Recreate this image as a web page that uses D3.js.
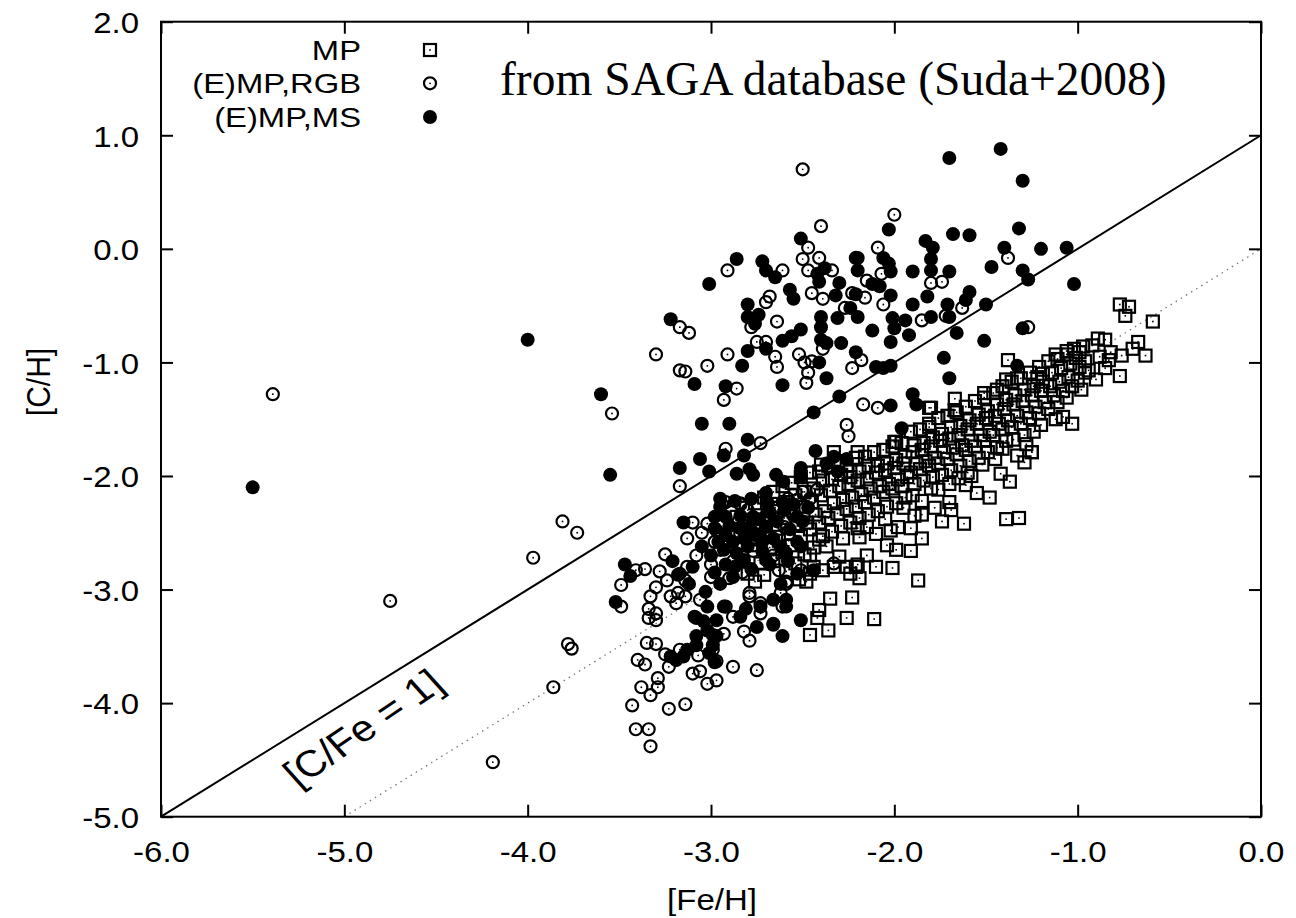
<!DOCTYPE html>
<html>
<head>
<meta charset="utf-8">
<script src="https://cdn.jsdelivr.net/npm/d3@7"></script>
<style>
  html, body { margin: 0; padding: 0; background: #fff; }
  svg { display: block; }
</style>
</head>
<body>
<div id="chart"></div>
<script>
// axis ticks and legend
const xTicks = [-6, -5, -4, -3, -2, -1, 0];
const yTicks = [-5, -4, -3, -2, -1, 0, 1, 2];
const legendLabels = ["MP", "(E)MP,RGB", "(E)MP,MS"];

// [Fe/H], [C/H] pairs
const mpStars = [
  [-0.77,-0.49],[-0.72,-0.51],[-0.74,-0.59],[-0.59,-0.64],[-0.89,-0.79],[-0.85,-0.80],[-0.82,-0.91],[-0.76,-0.94],
  [-0.70,-0.88],[-0.67,-0.82],[-0.63,-0.94],[-0.85,-1.05],[-0.77,-1.12],[-0.83,-0.98],[-1.12,-0.93],[-1.06,-0.90],
  [-0.99,-0.91],[-0.96,-1.09],[-1.38,-0.98],[-1.33,-1.14],[-1.39,-1.15],[-1.44,-1.24],[-1.51,-1.27],[-1.22,-1.13],
  [-1.19,-1.10],[-1.67,-1.32],[-1.67,-1.42],[-1.81,-1.40],[-1.03,-1.54],[-1.08,-1.48],[-1.25,-1.79],[-1.29,-1.88],
  [-1.33,-1.82],[-1.37,-2.05],[-1.48,-2.19],[-1.55,-2.15],[-1.61,-2.08],[-1.39,-2.38],[-1.32,-2.37],[-1.62,-2.42],
  [-1.74,-2.40],[-1.70,-2.23],[-1.81,-1.57],[-1.99,-1.70],[-2.20,-1.79],[-1.85,-2.34],[-1.85,-2.55],[-1.91,-2.46],
  [-1.91,-2.66],[-2.01,-2.81],[-2.10,-2.80],[-2.04,-2.61],[-2.15,-2.70],[-2.20,-2.78],[-1.89,-2.35],[-2.24,-1.96],
  [-1.80,-1.40],[-1.67,-1.42],[-2.40,-1.90],[-2.33,-1.79],[-2.00,-1.70],[-1.41,-1.76],[-1.24,-1.61],[-1.25,-1.79],
  [-1.42,-1.98],[-1.69,-2.30],[-1.98,-2.45],[-1.99,-2.65],[-2.20,-2.46],[-2.19,-2.54],[-1.87,-2.92],[-2.21,-2.80],
  [-2.26,-2.80],[-2.30,-2.71],[-2.19,-2.90],[-2.24,-2.86],[-2.37,-2.62],[-2.41,-2.56],[-2.46,-2.70],[-2.44,-2.80],
  [-2.46,-2.86],[-2.48,-2.93],[-2.39,-2.83],[-2.33,-2.80],[-2.35,-3.08],[-2.23,-3.07],[-2.41,-3.18],[-2.42,-3.25],
  [-2.26,-3.25],[-2.11,-3.26],[-2.36,-3.36],[-2.46,-3.40],
  [-2.86,-2.36],[-2.84,-2.52],[-2.83,-2.70],[-2.81,-2.28],[-2.79,-2.44],[-2.78,-2.61],[-2.80,-2.86],
  [-2.76,-2.24],[-2.74,-2.41],[-2.75,-2.54],[-2.73,-2.77],[-2.76,-2.93],[-2.71,-2.19],[-2.69,-2.34],
  [-2.70,-2.49],[-2.68,-2.63],[-2.71,-2.87],[-2.66,-2.14],[-2.64,-2.31],[-2.65,-2.43],[-2.63,-2.57],
  [-2.66,-2.75],[-2.61,-2.09],[-2.59,-2.23],[-2.60,-2.37],[-2.58,-2.51],[-2.61,-2.67],[-2.59,-2.84],
  [-2.56,-2.06],[-2.54,-2.17],[-2.55,-2.31],[-2.53,-2.44],[-2.56,-2.61],[-2.54,-2.77],[-2.52,-2.91],
  [-2.51,-2.01],[-2.49,-2.14],[-2.50,-2.27],[-2.48,-2.41],[-2.51,-2.53],[-2.49,-2.69],[-2.46,-1.97],
  [-2.44,-2.11],[-2.45,-2.23],[-2.43,-2.34],[-2.46,-2.47],[-2.44,-2.63],[-2.41,-1.96],[-2.39,-2.04],
  [-2.40,-2.17],[-2.38,-2.31],[-2.41,-2.41],[-2.39,-2.53],[-2.36,-1.91],[-2.34,-2.03],[-2.35,-2.13],
  [-2.33,-2.24],[-2.36,-2.37],[-2.34,-2.49],[-2.31,-1.87],[-2.29,-1.99],[-2.30,-2.09],[-2.28,-2.21],
  [-2.31,-2.33],[-2.29,-2.44],[-2.26,-1.91],[-2.24,-2.01],[-2.25,-2.07],[-2.23,-2.19],[-2.26,-2.29],
  [-2.24,-2.41],[-2.21,-1.84],[-2.19,-1.96],[-2.20,-2.04],[-2.18,-2.16],[-2.21,-2.27],[-2.19,-2.37],
  [-2.16,-1.83],[-2.14,-1.91],[-2.15,-2.03],[-2.13,-2.11],[-2.16,-2.23],[-2.14,-2.34],[-2.11,-1.79],
  [-2.09,-1.91],[-2.10,-1.97],[-2.08,-2.09],[-2.11,-2.19],[-2.09,-2.31],[-2.10,-2.51],[-2.06,-1.77],
  [-2.04,-1.89],[-2.05,-1.95],[-2.03,-2.07],[-2.06,-2.14],[-2.04,-2.27],[-2.01,-1.74],[-1.99,-1.86],
  [-2.00,-1.93],[-1.98,-2.03],[-2.01,-2.11],[-1.99,-2.24],[-1.96,-1.71],[-1.94,-1.83],[-1.95,-1.89],
  [-1.93,-2.01],[-1.96,-2.09],[-1.94,-2.19],[-1.91,-1.61],[-1.89,-1.73],[-1.90,-1.79],[-1.88,-1.89],
  [-1.91,-1.97],[-1.89,-2.07],[-1.90,-2.17],[-1.86,-1.59],[-1.84,-1.71],[-1.85,-1.77],[-1.83,-1.87],
  [-1.86,-1.94],[-1.84,-2.04],[-1.81,-1.54],[-1.79,-1.66],[-1.80,-1.74],[-1.78,-1.84],[-1.81,-1.91],
  [-1.79,-2.01],[-1.80,-2.11],[-1.76,-1.49],[-1.74,-1.63],[-1.75,-1.69],[-1.73,-1.79],[-1.76,-1.89],
  [-1.74,-1.99],[-1.71,-1.47],[-1.69,-1.57],[-1.70,-1.67],[-1.68,-1.75],[-1.71,-1.85],[-1.69,-1.95],
  [-1.70,-2.07],[-1.66,-1.44],[-1.64,-1.56],[-1.65,-1.64],[-1.63,-1.73],[-1.66,-1.81],[-1.64,-1.91],
  [-1.61,-1.39],[-1.59,-1.51],[-1.60,-1.59],[-1.58,-1.69],[-1.61,-1.77],[-1.59,-1.87],[-1.60,-1.97],
  [-1.56,-1.34],[-1.54,-1.46],[-1.55,-1.54],[-1.53,-1.64],[-1.56,-1.74],[-1.54,-1.84],[-1.51,-1.31],
  [-1.49,-1.43],[-1.50,-1.49],[-1.48,-1.61],[-1.51,-1.69],[-1.49,-1.79],[-1.46,-1.27],[-1.44,-1.37],
  [-1.45,-1.47],[-1.43,-1.54],[-1.46,-1.64],[-1.44,-1.75],[-1.41,-1.21],[-1.39,-1.33],[-1.40,-1.41],
  [-1.38,-1.51],[-1.41,-1.59],[-1.39,-1.69],[-1.36,-1.17],[-1.34,-1.29],[-1.35,-1.37],[-1.33,-1.47],
  [-1.36,-1.57],[-1.31,-1.14],[-1.29,-1.24],[-1.30,-1.34],[-1.28,-1.44],[-1.31,-1.54],[-1.29,-1.64],
  [-1.26,-1.09],[-1.24,-1.21],[-1.25,-1.29],[-1.23,-1.39],[-1.26,-1.49],[-1.21,-1.04],[-1.19,-1.17],
  [-1.20,-1.25],[-1.18,-1.35],[-1.21,-1.45],[-1.16,-0.99],[-1.14,-1.09],[-1.15,-1.21],[-1.13,-1.29],
  [-1.16,-1.41],[-1.11,-0.97],[-1.09,-1.05],[-1.10,-1.17],[-1.08,-1.25],[-1.11,-1.35],[-1.06,-0.93],
  [-1.04,-1.01],[-1.05,-1.13],[-1.03,-1.21],[-1.06,-1.31],[-1.01,-0.96],[-0.99,-1.04],[-1.00,-1.16],
  [-0.98,-1.24],[-0.96,-0.99],[-0.94,-1.07],
  [-1.52,-1.90],[-1.45,-1.85],[-1.35,-1.68],[-1.28,-1.72],[-1.20,-1.55],[-1.12,-1.50],[-1.58,-2.00],
  [-1.65,-2.02],[-1.76,-2.12],[-1.85,-2.22],[-1.95,-2.28],[-2.05,-2.38],[-2.15,-2.45],[-2.28,-2.55],
  [-2.02,-2.48],[-1.78,-2.28],[-0.92,-0.85],[-0.88,-0.95],[-0.97,-0.86],[-1.02,-0.88],[-0.90,-1.15]
];

const rgbStars = [
  [-5.39,-1.28],[-4.75,-3.10],[-4.19,-4.52],[-3.97,-2.72],[-3.86,-3.86],[-3.81,-2.40],[-3.73,-2.50],
  [-3.78,-3.48],[-3.76,-3.52],[-3.54,-1.45],
  [-2.50,0.70],[-2.00,0.30],[-2.40,0.20],[-2.09,0.01],[-2.47,0.01],[-2.50,-0.09],[-2.41,-0.08],[-2.47,-0.19],
  [-2.34,-0.19],[-2.21,-0.08],[-2.61,-0.19],[-2.91,-0.19],[-1.38,-0.08],[-2.07,-0.22],[-2.15,-0.28],[-1.80,-0.30],
  [-1.74,-0.29],[-2.45,-0.39],[-2.39,-0.44],[-2.23,-0.39],[-2.16,-0.43],[-2.06,-0.49],[-2.68,-0.42],[-2.70,-0.47],
  [-2.27,-0.52],[-1.63,-0.52],[-1.72,-0.59],[-1.85,-0.63],[-2.64,-0.64],[-2.78,-0.69],[-3.17,-0.69],[-3.12,-0.74],
  [-1.27,-0.69],[-2.75,-0.82],[-2.70,-0.82],[-3.30,-0.93],[-2.91,-0.93],[-2.65,-0.95],[-2.52,-0.93],[-2.49,-1.00],
  [-2.45,-0.99],[-2.39,-0.88],[-2.18,-0.98],[-2.23,-1.05],[-2.64,-1.04],[-2.47,-1.09],[-2.48,-1.18],[-3.02,-1.03],
  [-3.17,-1.07],[-3.14,-1.08],[-2.86,-1.23],[-2.93,-1.33],[-2.17,-1.37],[-2.09,-1.40],[-2.26,-1.55],[-2.25,-1.65],
  [-2.92,-1.76],[-2.73,-1.71],[-3.17,-2.09],[-2.92,-2.23],[-2.84,-2.24],[-2.50,-2.14],[-2.53,-2.21],[-2.51,-2.83],
  [-2.59,-2.95],[-2.79,-3.03],[-2.73,-3.12],[-2.33,-2.77],
  [-3.10,-2.41],[-3.02,-2.42],[-3.13,-2.55],[-2.97,-2.48],[-2.98,-2.58],[-3.25,-2.69],[-3.36,-2.82],[-3.41,-2.83],
  [-3.49,-2.96],[-3.49,-3.15],[-3.28,-2.84],[-3.24,-2.92],[-3.30,-2.98],[-3.33,-3.06],[-3.22,-3.06],[-3.18,-3.03],
  [-3.14,-3.06],[-3.19,-3.12],[-3.34,-3.17],[-3.30,-3.21],[-3.34,-3.25],[-3.30,-3.27],[-3.35,-3.47],[-3.30,-3.48],
  [-3.40,-3.62],[-3.36,-3.66],[-3.25,-3.57],[-3.23,-3.68],[-3.17,-3.53],[-3.07,-3.58],[-2.99,-3.53],[-2.97,-3.63],
  [-2.88,-3.68],[-2.75,-3.71],[-3.10,-3.74],[-3.06,-3.72],[-3.02,-3.83],[-2.97,-3.80],[-3.29,-3.78],[-3.29,-3.86],
  [-3.38,-3.86],[-3.33,-3.93],[-3.43,-4.02],[-3.23,-4.05],[-3.14,-4.01],[-3.41,-4.23],[-3.34,-4.23],[-3.33,-4.38],
  [-3.13,-2.80],[-3.14,-2.92],[-3.06,-3.09],[-2.93,-3.39],[-2.82,-3.37],[-2.79,-3.45],[-2.63,-2.83],[-2.59,-2.93],
  [-2.84,-2.25],[-2.94,-2.25],[-2.88,-2.75],[-2.79,-3.06],[-2.61,-3.15],[-2.62,-3.03],[-2.92,-3.15],[-2.88,-3.24],
  [-3.00,-2.89],[-2.73,-3.21],
  [-3.05,-2.50],[-2.95,-2.65],[-2.90,-2.60],[-2.85,-2.40],[-2.80,-2.30],[-2.75,-2.45],[-2.70,-2.35],[-2.65,-2.28],
  [-2.60,-2.45],[-2.55,-2.35],[-2.90,-2.90],[-2.83,-2.85],[-3.08,-2.70],[-3.00,-2.78],[-2.72,-2.58],[-2.77,-2.66],
  [-2.66,-2.70],[-2.46,-2.20],[-2.42,-2.12],[-2.58,-2.20]
];

const msStars = [
  [-5.50,-2.10],[-4.00,-0.80],[-3.60,-1.28],[-3.55,-1.99],[-3.52,-3.11],[-3.47,-2.78],[-3.44,-2.88],
  [-1.70,0.80],[-1.42,0.88],[-1.30,0.60],[-1.32,0.18],[-2.03,0.17],[-1.68,0.13],[-1.59,0.12],[-1.83,0.07],
  [-1.79,0.01],[-1.40,0.01],[-1.20,0.00],[-1.06,0.01],[-2.51,0.09],[-2.86,-0.09],[-2.72,-0.11],[-2.70,-0.19],
  [-2.65,-0.25],[-3.01,-0.31],[-1.80,-0.09],[-1.80,-0.19],[-1.70,-0.20],[-1.90,-0.20],[-2.20,-0.08],[-2.06,-0.08],
  [-2.03,-0.13],[-2.02,-0.20],[-2.20,-0.19],[-2.42,-0.22],[-2.38,-0.17],[-2.41,-0.29],[-2.30,-0.30],[-2.12,-0.31],
  [-2.08,-0.33],[-2.57,-0.36],[-2.55,-0.44],[-2.32,-0.41],[-2.21,-0.40],[-2.02,-0.41],[-1.82,-0.42],[-1.47,-0.16],
  [-1.30,-0.19],[-1.27,-0.27],[-1.02,-0.31],[-1.59,-0.38],[-1.61,-0.45],[-1.50,-0.49],[-1.71,-0.49],[-1.70,-0.60],
  [-1.80,-0.60],[-1.90,-0.49],[-2.80,-0.49],[-2.80,-0.60],[-2.74,-0.58],[-2.76,-0.66],[-2.40,-0.60],[-2.40,-0.69],
  [-2.31,-0.61],[-2.24,-0.52],[-2.20,-0.60],[-2.01,-0.61],[-1.94,-0.63],[-2.00,-0.70],[-2.12,-0.72],[-1.92,-0.76],
  [-2.02,-0.82],[-2.51,-0.71],[-2.56,-0.77],[-2.61,-0.81],[-2.40,-0.80],[-2.37,-0.83],[-2.29,-0.83],[-2.70,-0.88],
  [-2.80,-0.90],[-2.21,-0.91],[-2.41,-1.00],[-2.83,-1.03],[-3.09,-1.19],[-3.22,-0.62],[-2.92,-1.21],[-2.61,-1.20],
  [-2.37,-1.14],[-2.10,-1.04],[-2.06,-1.05],[-2.02,-1.03],[-1.66,-0.74],[-1.51,-0.81],[-1.30,-0.70],[-1.73,-0.96],
  [-1.70,-1.14],[-1.33,-1.03],[-2.30,-1.30],[-2.44,-1.44],[-1.90,-1.28],[-1.88,-1.37],[-2.02,-1.38],[-3.05,-1.54],
  [-2.90,-1.54],[-1.96,-1.58],
  [-2.80,-1.68],[-3.17,-1.93],[-3.06,-1.85],[-2.93,-1.82],[-2.82,-1.82],[-3.01,-1.96],[-2.86,-1.98],[-2.79,-1.94],
  [-2.77,-1.99],[-3.15,-2.41],[-3.21,-2.75],[-2.95,-2.27],[-2.92,-2.36],[-2.645,-1.99],[-2.605,-2.05],[-2.51,-1.93],
  [-2.51,-2.01],[-2.43,-1.78],[-2.26,-1.85],[-2.37,-1.89],[-2.31,-1.96],[-2.33,-1.83],[-3.17,-2.86],[-3.18,-2.87],
  [-3.08,-3.49],[-3.15,-3.59],[-3.22,-3.59],[-2.98,-3.64],[-2.99,-3.49],[-2.99,-3.40],[-2.66,-3.31],[-3.09,-3.24],
  [-3.04,-3.28],[-2.81,-3.17],[-3.08,-3.25],[-3.02,-3.36],[-2.84,-3.24],[-2.73,-3.15],[-2.66,-3.30],[-2.59,-3.09],
  [-2.51,-3.27],[-2.93,-3.15],[-3.02,-3.15],[-2.97,-3.27],[-2.75,-3.33],[-2.61,-3.41],[-3.01,-3.56],[-2.97,-3.41],
  [-3.08,-3.41],[-3.13,-3.53],[-3.19,-3.62],
  [-2.98,-2.36],[-2.92,-2.52],[-2.84,-2.46],[-2.77,-2.36],[-2.69,-2.24],[-2.61,-2.23],[-2.53,-2.36],[-2.72,-2.56],
  [-2.82,-2.74],[-2.88,-2.89],[-2.70,-2.74],[-2.59,-2.68],[-2.51,-2.62],[-2.44,-2.83],[-2.53,-2.86],[-2.62,-2.95],
  [-2.66,-3.09],[-2.59,-3.15],
  [-3.05,-2.62],[-3.00,-2.70],[-2.96,-2.58],[-2.93,-2.65],[-2.90,-2.44],[-2.88,-2.58],[-2.86,-2.68],[-2.84,-2.35],
  [-2.82,-2.55],[-2.80,-2.62],[-2.79,-2.45],[-2.76,-2.52],[-2.74,-2.38],[-2.72,-2.66],[-2.70,-2.45],[-2.68,-2.32],
  [-2.66,-2.55],[-2.64,-2.40],[-2.62,-2.62],[-2.60,-2.30],[-2.57,-2.47],[-2.55,-2.25],[-2.53,-2.58],[-2.50,-2.40],
  [-2.47,-2.28],[-2.92,-2.78],[-2.98,-2.85],[-3.10,-2.80],[-3.12,-2.95],[-2.95,-2.95],[-2.87,-2.80],[-3.03,-3.02],
  [-2.78,-2.82],[-2.68,-2.78],[-2.58,-2.75],[-2.98,-2.46],[-2.95,-2.20],[-2.87,-2.22],[-2.78,-2.20],[-2.70,-2.15]
];

const width = 1296;
const height = 918;
const frame = { left: 161, right: 1261, top: 21.7, bottom: 816.7 };
const sans = "'Liberation Sans', Arial, Helvetica, sans-serif";
const serif = "'Liberation Serif', 'Times New Roman', serif";

// marker sizes (px)
const sqHalf = 6;
const ringR = 6;
const dotR = 7;
const markStroke = 2.2;

const x = d3.scaleLinear().domain([-6, 0]).range([frame.left, frame.right]);
const y = d3.scaleLinear().domain([-5, 2]).range([frame.bottom, frame.top]);
const fmt = (d) => d.toFixed(1);

const svg = d3
  .select("#chart")
  .append("svg")
  .attr("width", width)
  .attr("height", height);

svg.append("rect").attr("width", width).attr("height", height).attr("fill", "#fff");

// gnuplot text looks a bit wider than it is tall
function label(g, str, px, py, size, sx, anchor, extra) {
  return g
    .append("text")
    .attr("transform", `translate(${px},${py}) scale(${sx},1)` + (extra || ""))
    .attr("text-anchor", anchor)
    .attr("font-family", sans)
    .attr("font-size", size)
    .attr("fill", "#000")
    .text(str);
}

function squareMark(g) {
  g.append("rect")
    .attr("x", -sqHalf).attr("y", -sqHalf).attr("width", 2 * sqHalf).attr("height", 2 * sqHalf)
    .attr("fill", "none").attr("stroke", "#000").attr("stroke-width", markStroke);
  g.append("rect")
    .attr("x", -0.8).attr("y", -0.8).attr("width", 1.6).attr("height", 1.6)
    .attr("fill", "#000");
}

function ringMark(g) {
  g.append("circle")
    .attr("r", ringR)
    .attr("fill", "none").attr("stroke", "#000").attr("stroke-width", markStroke);
  g.append("circle").attr("r", 0.9).attr("fill", "#000");
}

function dotMark(g) {
  g.append("circle").attr("r", dotR).attr("fill", "#000");
}

// reference lines
svg
  .append("line")
  .attr("x1", x(-5)).attr("y1", y(-5))
  .attr("x2", x(0)).attr("y2", y(0))
  .attr("stroke", "#777")
  .attr("stroke-width", 1.3)
  .attr("stroke-dasharray", "1.5,4.5");

svg
  .append("line")
  .attr("x1", x(-6)).attr("y1", y(-5))
  .attr("x2", x(0)).attr("y2", y(1))
  .attr("stroke", "#000")
  .attr("stroke-width", 2);

// markers: MP first, then RGB, then MS on top
const marks = svg.append("g");
[
  [mpStars, squareMark],
  [rgbStars, ringMark],
  [msStars, dotMark],
].forEach(([rows, draw]) => {
  marks
    .append("g")
    .selectAll("g")
    .data(rows)
    .join("g")
    .attr("transform", (d) => `translate(${x(d[0])},${y(d[1])})`)
    .each(function () {
      draw(d3.select(this));
    });
});

// axes with inward ticks on all four sides
const axisStyle = (g) => {
  g.select(".domain").remove();
  g.selectAll(".tick line").attr("stroke", "#000").attr("stroke-width", 2);
};

const xAxis = svg
  .append("g")
  .attr("transform", `translate(0,${frame.bottom})`)
  .call(d3.axisBottom(x).tickValues(xTicks).tickFormat(fmt).tickSizeInner(-12).tickSizeOuter(0).tickPadding(24))
  .call(axisStyle);
xAxis
  .selectAll("text")
  .attr("font-family", sans)
  .attr("font-size", 30)
  .attr("fill", "#000")
  .attr("transform", "scale(1.1,1)");

svg
  .append("g")
  .attr("transform", `translate(0,${frame.top})`)
  .call(d3.axisTop(x).tickValues(xTicks).tickFormat("").tickSizeInner(-12).tickSizeOuter(0))
  .call(axisStyle);

const yAxis = svg
  .append("g")
  .attr("transform", `translate(${frame.left},0)`)
  .call(d3.axisLeft(y).tickValues(yTicks).tickFormat(fmt).tickSizeInner(-12).tickSizeOuter(0).tickPadding(20))
  .call(axisStyle);
yAxis
  .selectAll("text")
  .attr("font-family", sans)
  .attr("font-size", 30)
  .attr("fill", "#000")
  .attr("dy", "0.36em")
  .attr("transform", "scale(1.1,1)");

svg
  .append("g")
  .attr("transform", `translate(${frame.right},0)`)
  .call(d3.axisRight(y).tickValues(yTicks).tickFormat("").tickSizeInner(-12).tickSizeOuter(0))
  .call(axisStyle);

// frame
svg
  .append("rect")
  .attr("x", frame.left)
  .attr("y", frame.top)
  .attr("width", frame.right - frame.left)
  .attr("height", frame.bottom - frame.top)
  .attr("fill", "none")
  .attr("stroke", "#000")
  .attr("stroke-width", 2);

// axis titles
label(svg, "[Fe/H]", 712, 910, 30, 1.1, "middle");
label(svg, "[C/H]", 50, 382, 30, 1.1, "middle", " rotate(-90)");

// line label
label(svg, "[C/Fe = 1]", 372, 738, 37, 1.15, "middle", " rotate(-38)");

// title
svg
  .append("text")
  .attr("x", 500)
  .attr("y", 95)
  .attr("font-family", serif)
  .attr("font-size", 47.5)
  .attr("fill", "#000")
  .text("from SAGA database (Suda+2008)");

// legend
const legendY = [50, 83.3, 117];
legendLabels.forEach((name, i) => {
  label(svg, name, 361, legendY[i] + 10, 28, 1.17, "end");
});
[squareMark, ringMark, dotMark].forEach((draw, i) => {
  draw(svg.append("g").attr("transform", `translate(430,${legendY[i]})`));
});
</script>
</body>
</html>
